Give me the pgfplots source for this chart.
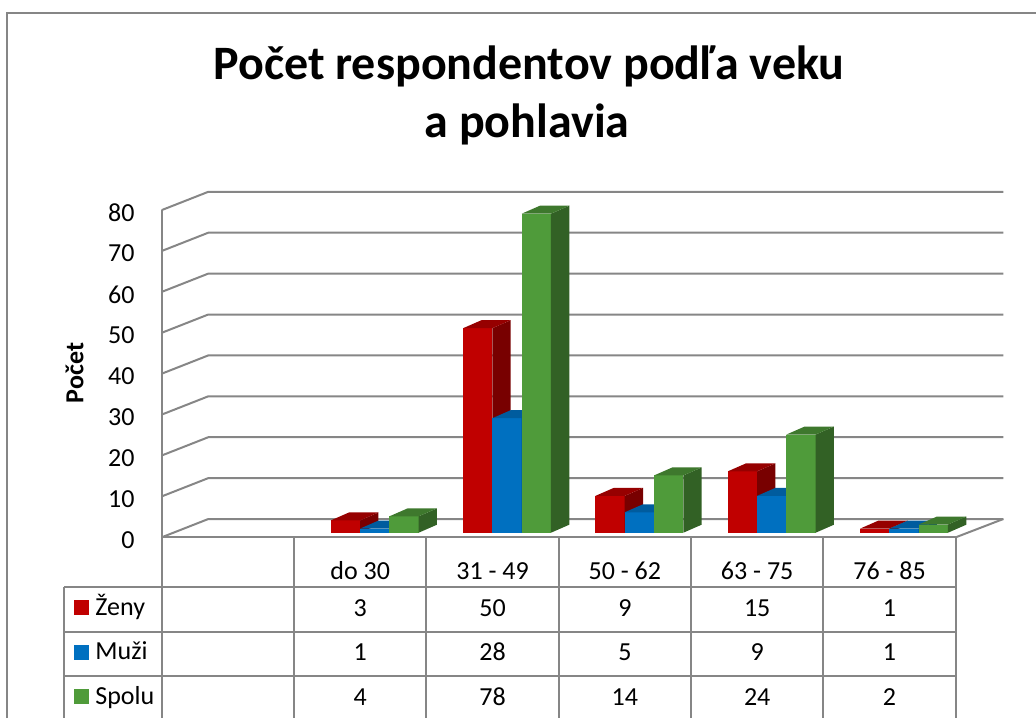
\documentclass[border=0pt]{standalone}
\usepackage{fontspec}
\setmainfont{Carlito}
\usepackage{pgfplots}
\usepackage{pgfplotstable}
\pgfplotsset{compat=1.18}
\definecolor{gridgray}{RGB}{134,134,134}
\definecolor{redF}{RGB}{192,0,0}
\definecolor{redS}{RGB}{120,0,0}
\definecolor{redT}{RGB}{150,0,0}
\definecolor{blueF}{RGB}{0,112,192}
\definecolor{blueS}{RGB}{0,78,135}
\definecolor{blueT}{RGB}{0,92,158}
\definecolor{greenF}{RGB}{79,155,58}
\definecolor{greenS}{RGB}{50,97,37}
\definecolor{greenT}{RGB}{62,120,45}

\pgfplotstableread{
x zeny muzi spolu
1 3 1 4
2 50 28 78
3 9 5 14
4 15 9 24
5 1 1 2
}\datatable

\def\bsx{7.25}\def\bsy{2.3}\def\bw{7.325}\def\bdx{9.15}\def\bdy{4}
\newcommand\defbarmark[4]{%
\pgfdeclareplotmark{#1}{%
  \pgfmathsetmacro\bh{\barh*2.045}%
  \pgfmathsetmacro\xa{\bsx-\bw}%
  \pgfmathsetmacro\xb{\bsx+\bw}%
  \pgfmathsetmacro\xc{\bsx+\bw+\bdx}%
  \pgfmathsetmacro\xd{\bsx-\bw+\bdx}%
  \pgfmathsetmacro\ya{\bsy-\bh}%
  \pgfmathsetmacro\yb{\bsy}%
  \pgfmathsetmacro\yc{\bsy+\bdy}%
  \pgfmathsetmacro\yd{\bsy+\bdy-\bh}%
  \pgfsetfillcolor{#2}%
  \pgfpathrectanglecorners{\pgfqpoint{\xa pt}{\ya pt}}{\pgfqpoint{\xb pt}{\yb pt}}%
  \pgfusepath{fill}%
  \pgfsetfillcolor{#3}%
  \pgfpathmoveto{\pgfqpoint{\xb pt}{\yb pt}}%
  \pgfpathlineto{\pgfqpoint{\xc pt}{\yc pt}}%
  \pgfpathlineto{\pgfqpoint{\xc pt}{\yd pt}}%
  \pgfpathlineto{\pgfqpoint{\xb pt}{\ya pt}}%
  \pgfpathclose
  \pgfusepath{fill}%
  \pgfsetfillcolor{#4}%
  \pgfpathmoveto{\pgfqpoint{\xa pt}{\yb pt}}%
  \pgfpathlineto{\pgfqpoint{\xb pt}{\yb pt}}%
  \pgfpathlineto{\pgfqpoint{\xc pt}{\yc pt}}%
  \pgfpathlineto{\pgfqpoint{\xd pt}{\yc pt}}%
  \pgfpathclose
  \pgfusepath{fill}%
}}
\defbarmark{barred}{redF}{redS}{redT}
\defbarmark{barblue}{blueF}{blueS}{blueT}
\defbarmark{bargreen}{greenF}{greenS}{greenT}

\newcommand\tf{\fontsize{13}{15}\selectfont}

\begin{document}
\begin{tikzpicture}
\begin{scope}[x=0.5pt,y=-0.5pt]
\path[use as bounding box] (0,0) rectangle (1036,718);
% outer border
\draw[gridgray, line width=0.7pt] (7,718) -- (7,13) -- (1036,13);
% title
\node[anchor=base, inner sep=0pt, font=\bfseries\fontsize{24}{28}\selectfont] at (529,79) {Počet respondentov podľa veku};
\node[anchor=base, inner sep=0pt, font=\bfseries\fontsize{24}{28}\selectfont] at (527,137) {a pohlavia};
% 3D gridlines (left wall + back wall)
\foreach \v in {0,10,...,80}{
  \draw[gridgray, line width=1pt] (161.7,{537.3-4.09*\v}) -- (208.3,{519-4.09*\v}) -- (1003.3,{519-4.09*\v});
}
\draw[gridgray, line width=1pt] (955.7,537.3) -- (1003.3,519);
% data table grid
\foreach \k in {0,...,6}{
  \draw[gridgray, line width=1pt] ({161.7+132.33*\k},537.3) -- ({161.7+132.33*\k},718);
}
\draw[gridgray, line width=1pt] (64.3,586.7) -- (64.3,718);
\foreach \yy in {586.7,631.7,676}{
  \draw[gridgray, line width=1pt] (64.3,\yy) -- (955.7,\yy);
}
% y label
\node[rotate=90, inner sep=0pt, font=\bfseries\tf] at (74.7,373) {Počet};
\end{scope}

\begin{axis}[
  at={(80.85pt,-268.65pt)}, anchor=south west,
  x=66.165pt, y=2.045pt,
  xmin=-0.5, xmax=5.5, ymin=0, ymax=80,
  axis lines=left,
  axis line style={draw=gridgray, line width=1pt, -},
  clip=false,
  xtick={1,...,5},
  xticklabels={do 30,31 - 49,50 - 62,63 - 75,76 - 85},
  ytick={0,10,...,80},
  major tick length=0pt,
  tick style={draw=none},
  /pgf/number format/assume math mode=true,
  tick label style={font=\tf},
  yticklabel style={anchor=east, inner sep=0pt, xshift=-13.35pt, yshift=-1.25pt},
  xticklabel style={anchor=base, inner sep=0pt, yshift=-21pt},
]
\addplot[scatter, only marks, mark=barred,
  scatter/@pre marker code/.code={}, scatter/@post marker code/.code={},
  visualization depends on={\thisrow{zeny} \as \barh}]
  table[x expr=\thisrow{x}-0.2214, y=zeny]{\datatable};
\addplot[scatter, only marks, mark=barblue,
  scatter/@pre marker code/.code={}, scatter/@post marker code/.code={},
  visualization depends on={\thisrow{muzi} \as \barh}]
  table[x=x, y=muzi]{\datatable};
\addplot[scatter, only marks, mark=bargreen,
  scatter/@pre marker code/.code={}, scatter/@post marker code/.code={},
  visualization depends on={\thisrow{spolu} \as \barh}]
  table[x expr=\thisrow{x}+0.2214, y=spolu]{\datatable};
\end{axis}

\begin{scope}[x=0.5pt,y=-0.5pt]
% table row labels with legend keys
\fill[redF] (74,600) rectangle (89,615);
\fill[blueF] (74,644.5) rectangle (89,659.5);
\fill[greenF] (74,688.7) rectangle (89,703.7);
\node[anchor=base west, inner sep=0pt, font=\tf] at (95,615.2) {Ženy};
\node[anchor=base west, inner sep=0pt, font=\tf] at (95,659.8) {Muži};
\node[anchor=base west, inner sep=0pt, font=\tf] at (95,704) {Spolu};
% table values
\foreach \c/\a/\b/\s in {360.2/3/1/4, 492.5/50/28/78, 624.9/9/5/14, 757.2/15/9/24, 889.5/1/1/2}{
  \node[anchor=base, inner sep=0pt, font=\tf] at (\c,616.2) {\a};
  \node[anchor=base, inner sep=0pt, font=\tf] at (\c,660.8) {\b};
  \node[anchor=base, inner sep=0pt, font=\tf] at (\c,705) {\s};
}
\end{scope}
\end{tikzpicture}
\end{document}
